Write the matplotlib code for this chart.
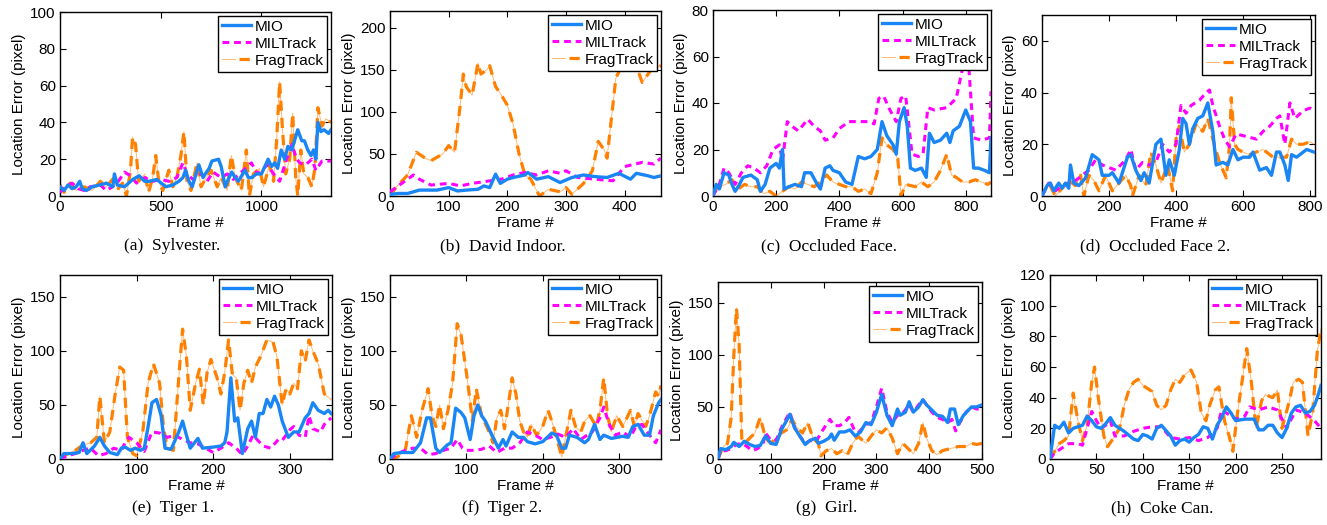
import matplotlib
matplotlib.use("Agg")
import matplotlib.pyplot as plt
from matplotlib.legend_handler import HandlerTuple

# ---------------- data (frame, location error) ----------------
series_names = ["MIO", "MILTrack", "FragTrack"]

syl_mio = [(0,5),(20,3),(40,6),(60,4),(80,5),(98,8),(110,4),(131,3),(160,5),(197,6),(230,7),(262,5),(270,12),(285,6),(320,5),(361,9),(393,11),(420,8),(443,8),(480,9),(525,5),(560,6),(590,8),(610,10),(623,14),(640,8),(656,5),(689,17),(710,10),(721,12),(740,15),(754,19),(787,20),(800,16),(820,5),(835,9),(852,13),(870,10),(885,8),(918,14),(935,10),(951,10),(975,12),(1000,12),(1033,20),(1050,16),(1066,18),(1080,15),(1098,25),(1115,20),(1131,27),(1150,25),(1180,36),(1200,30),(1213,30),(1230,25),(1246,22),(1258,25),(1270,20),(1280,40),(1295,35),(1310,36),(1333,34),(1345,36)]
syl_mil = [(0,2),(30,5),(60,7),(90,4),(120,3),(150,5),(200,6),(230,3),(260,5),(290,8),(320,13),(350,11),(380,7),(420,10),(460,8),(500,9),(540,8),(580,10),(610,18),(630,12),(660,9),(700,12),(730,8),(760,13),(800,10),(830,12),(860,9),(900,13),(950,18),(980,12),(1000,14),(1030,17),(1060,12),(1090,8),(1110,15),(1150,28),(1175,20),(1190,18),(1220,17),(1250,20),(1270,14),(1300,19),(1345,19)]
syl_frag = [(0,6),(20,2),(50,7),(80,3),(120,5),(160,3),(200,8),(230,5),(260,9),(290,4),(310,7),(330,0),(350,14),(360,32),(375,28),(390,8),(420,12),(440,2),(460,10),(475,22),(490,8),(510,3),(540,14),(560,5),(580,10),(600,22),(615,35),(630,8),(650,3),(680,18),(700,5),(720,9),(750,14),(780,5),(800,10),(830,3),(850,22),(870,10),(900,3),(925,25),(940,0),(960,12),(990,15),(1010,5),(1040,17),(1060,8),(1075,30),(1090,62),(1105,35),(1120,12),(1140,20),(1155,45),(1170,10),(1180,0),(1195,25),(1210,12),(1230,10),(1250,5),(1265,15),(1280,48),(1300,38),(1320,42),(1345,40)]

dav_mio = [(0,2),(15,3),(30,3),(50,7),(80,7),(100,10),(115,6),(130,7),(150,8),(160,12),(170,10),(180,26),(188,15),(200,20),(210,22),(230,25),(235,28),(250,20),(270,23),(290,16),(310,22),(330,25),(350,23),(370,22),(390,27),(410,20),(420,27),(440,24),(450,22),(462,24)]
dav_mil = [(0,5),(20,15),(40,25),(50,20),(70,13),(100,15),(120,12),(140,15),(170,18),(190,20),(210,25),(230,28),(250,25),(270,30),(290,27),(300,30),(320,22),(350,20),(380,18),(400,35),(430,40),(450,38),(462,45)]
dav_frag = [(0,0),(10,10),(30,25),(45,52),(60,45),(70,42),(90,50),(100,60),(110,52),(120,110),(125,145),(130,130),(140,120),(150,158),(155,145),(165,150),(170,155),(180,130),(190,120),(200,108),(210,85),(220,50),(230,25),(240,20),(255,0),(270,8),(290,5),(300,10),(310,2),(330,15),(345,30),(355,65),(365,55),(370,45),(385,140),(395,155),(420,155),(430,135),(445,150),(462,155)]

occ_mio = [(0,0),(10,5),(20,3),(35,10),(50,9),(60,5),(70,2),(80,4),(95,8),(120,9),(140,7),(150,2),(165,5),(180,12),(200,14),(210,12),(220,20),(225,3),(240,4),(260,5),(280,4),(290,10),(310,10),(330,5),(340,3),(355,12),(370,13),(380,11),(400,10),(420,6),(440,5),(460,17),(480,16),(500,17),(520,20),(535,32),(550,26),(570,22),(580,18),(590,32),(605,38),(615,30),(625,12),(640,11),(660,12),(675,8),(685,27),(700,23),(720,24),(740,27),(750,23),(760,28),(780,30),(800,37),(815,32),(825,12),(840,12),(860,11),(875,10),(880,25)]
occ_mil = [(0,0),(20,5),(35,12),(50,10),(70,5),(90,10),(110,13),(130,12),(150,10),(170,13),(190,20),(210,22),(220,15),(235,32),(250,30),(270,28),(300,33),(320,30),(340,28),(355,24),(380,25),(400,29),(430,32),(460,32),(490,32),(510,31),(525,42),(540,43),(560,37),(580,32),(595,42),(610,43),(630,18),(650,17),(665,18),(680,38),(700,37),(740,38),(770,42),(790,55),(810,55),(825,25),(850,24),(875,25),(880,45)]
occ_frag = [(0,2),(20,4),(40,5),(60,7),(80,3),(100,5),(120,4),(140,4),(160,1),(180,2),(200,0),(220,2),(240,4),(260,3),(280,6),(300,5),(320,4),(340,6),(360,9),(380,6),(400,5),(420,4),(440,4),(460,2),(480,3),(500,1),(520,10),(535,25),(550,22),(570,20),(585,16),(595,0),(610,5),(640,4),(660,6),(680,4),(700,6),(720,11),(740,18),(755,9),(770,8),(790,6),(810,6),(830,7),(850,6),(870,5),(880,6)]

oc2_mio = [(0,0),(15,4),(25,5),(35,2),(50,5),(60,3),(70,5),(80,3),(85,12),(95,5),(110,4),(130,7),(150,16),(170,14),(180,8),(200,8),(210,9),(230,5),(255,15),(265,16),(280,10),(295,6),(305,9),(320,5),(340,20),(355,22),(370,8),(380,14),(395,8),(410,18),(420,30),(430,28),(440,20),(450,26),(465,30),(480,31),(495,36),(510,25),(520,12),(540,13),(555,12),(570,18),(585,14),(600,15),(620,15),(630,17),(650,10),(670,11),(685,8),(700,17),(710,17),(725,12),(735,6),(745,16),(760,15),(790,18),(812,17)]
oc2_mil = [(0,0),(20,5),(40,2),(60,4),(80,5),(100,6),(120,8),(140,10),(160,14),(180,12),(200,11),(220,10),(250,14),(265,18),(280,10),(300,13),(320,12),(340,13),(360,20),(380,17),(400,20),(415,35),(430,32),(445,35),(470,37),(490,40),(500,41),(510,35),(530,27),(545,22),(560,19),(580,24),(610,23),(640,22),(660,25),(680,27),(700,30),(710,31),(725,20),(740,36),(755,30),(780,33),(800,34),(812,33)]
oc2_frag = [(0,0),(20,5),(40,0),(60,3),(80,6),(100,4),(115,8),(125,0),(140,8),(155,6),(170,2),(190,8),(210,2),(230,5),(250,8),(265,4),(270,0),(290,8),(310,4),(325,17),(340,12),(355,5),(375,12),(390,2),(400,22),(410,27),(425,17),(440,20),(460,28),(480,25),(495,30),(510,22),(530,13),(550,7),(560,20),(565,38),(575,20),(585,18),(600,17),(620,16),(640,17),(660,18),(690,15),(710,15),(730,15),(745,22),(760,20),(780,20),(800,21),(812,20)]

t1_mio = [(0,0),(5,5),(15,5),(25,6),(30,15),(35,5),(45,12),(52,20),(58,12),(65,6),(75,4),(80,10),(85,11),(92,8),(98,10),(105,8),(110,10),(115,30),(120,52),(126,55),(132,40),(137,10),(145,9),(155,25),(160,35),(165,22),(170,10),(180,19),(186,10),(200,11),(210,12),(215,15),(218,25),(223,75),(228,35),(232,38),(238,5),(245,28),(250,35),(255,20),(260,42),(265,42),(270,55),(275,48),(280,58),(285,50),(290,35),(298,20),(305,25),(312,25),(320,38),(325,42),(330,52),(337,45),(345,42),(350,45),(354,42)]
t1_mil = [(0,0),(10,3),(20,5),(30,8),(40,10),(50,3),(60,5),(70,10),(80,8),(85,15),(90,20),(100,15),(110,7),(120,25),(130,24),(140,20),(150,22),(160,18),(170,15),(180,14),(190,10),(200,6),(210,10),(220,15),(230,10),(238,4),(245,12),(252,22),(265,12),(275,10),(285,18),(290,17),(300,27),(305,30),(312,22),(320,20),(325,40),(330,28),(340,25),(345,32),(354,38)]
t1_frag = [(0,0),(10,5),(20,8),(30,13),(40,15),(48,20),(52,58),(58,15),(65,25),(72,60),(78,85),(83,82),(88,20),(95,5),(100,3),(108,25),(115,70),(122,88),(130,70),(135,30),(140,10),(148,8),(155,75),(160,120),(165,95),(170,45),(177,70),(182,83),(187,50),(192,80),(197,92),(205,75),(210,60),(215,80),(220,110),(225,78),(230,75),(235,45),(240,70),(245,82),(250,70),(255,85),(262,95),(270,110),(278,108),(283,95),(290,50),(295,65),(300,60),(305,70),(310,65),(315,100),(320,90),(325,110),(330,100),(337,88),(345,60),(354,55)]

t2_mio = [(0,0),(5,5),(15,6),(25,6),(30,6),(40,15),(48,38),(53,38),(60,10),(65,6),(75,13),(80,15),(86,47),(93,43),(98,38),(105,18),(110,40),(115,50),(120,40),(125,35),(135,20),(142,10),(148,18),(152,12),(160,25),(168,20),(175,20),(180,16),(190,14),(200,16),(212,24),(218,22),(225,10),(230,10),(235,22),(245,20),(255,15),(260,18),(268,32),(275,18),(280,22),(290,19),(305,21),(312,20),(318,30),(325,32),(333,22),(340,22),(345,40),(352,52),(355,55)]
t2_mil = [(0,0),(10,5),(20,8),(30,10),(40,10),(50,4),(60,5),(70,8),(80,10),(88,18),(95,10),(100,8),(110,8),(120,9),(130,12),(140,6),(150,10),(160,10),(170,15),(180,25),(190,22),(200,18),(210,20),(220,23),(230,20),(240,28),(250,18),(258,22),(265,25),(275,38),(280,48),(287,32),(295,22),(305,25),(315,20),(322,30),(330,32),(340,22),(348,15),(355,27)]
t2_frag = [(0,0),(10,2),(20,8),(28,40),(35,20),(42,45),(50,65),(55,40),(60,30),(65,50),(70,28),(76,45),(82,70),(88,125),(93,115),(97,95),(102,70),(108,35),(113,65),(120,40),(128,28),(135,15),(140,38),(145,45),(150,28),(155,50),(160,75),(165,60),(170,35),(175,25),(180,20),(185,32),(192,22),(200,30),(207,45),(212,35),(218,20),(225,2),(230,20),(237,45),(243,30),(250,25),(255,35),(262,40),(270,30),(275,45),(280,75),(285,40),(290,25),(297,40),(305,30),(315,45),(320,30),(325,42),(335,30),(340,40),(348,62),(352,58),(355,68)]

girl_mio = [(0,0),(5,10),(15,9),(25,12),(30,16),(40,12),(50,17),(60,14),(70,12),(80,13),(90,22),(100,15),(110,14),(120,28),(130,37),(136,43),(145,30),(155,22),(165,14),(175,18),(185,20),(190,15),(200,17),(210,20),(215,24),(220,18),(230,26),(240,26),(250,28),(260,22),(270,26),(280,35),(290,33),(300,45),(310,62),(320,42),(330,32),(340,48),(345,42),(355,45),(362,55),(370,45),(380,50),(388,57),(395,52),(405,47),(415,42),(425,41),(435,35),(440,48),(448,48),(455,33),(465,42),(480,50),(490,50),(500,52)]
girl_mil = [(0,0),(5,8),(15,8),(25,10),(35,14),(45,15),(55,12),(65,8),(75,10),(85,14),(90,25),(100,18),(110,18),(120,30),(136,45),(145,30),(155,22),(165,15),(175,18),(185,16),(195,25),(205,33),(212,38),(220,32),(230,32),(240,35),(248,40),(258,28),(265,25),(280,33),(290,35),(300,50),(310,68),(320,45),(330,35),(340,42),(350,44),(362,52),(370,45),(380,52),(388,57),(395,52),(405,45),(415,40),(425,38),(435,35),(443,38),(450,27),(458,35),(470,45),(480,50),(490,48),(500,48)]
girl_frag = [(0,0),(10,12),(18,15),(25,40),(30,100),(35,145),(40,110),(45,20),(50,15),(60,20),(70,25),(80,40),(90,20),(100,15),(110,20),(120,25),(130,28),(140,38),(150,30),(160,25),(170,35),(180,20),(190,15),(195,3),(205,8),(215,10),(225,5),(235,8),(245,4),(255,15),(265,22),(280,15),(290,22),(300,28),(310,25),(320,30),(330,20),(340,5),(350,15),(360,10),(370,5),(380,15),(388,35),(395,20),(405,8),(415,4),(425,8),(440,10),(455,12),(470,12),(480,15),(490,14),(500,15)]

coke_mio = [(0,0),(5,22),(10,20),(15,24),(20,17),(25,20),(35,22),(40,28),(45,25),(50,21),(55,20),(60,23),(65,27),(70,22),(80,18),(90,13),(95,12),(100,16),(105,15),(110,13),(115,20),(120,22),(130,15),(135,9),(140,12),(145,13),(150,11),(155,14),(160,16),(165,21),(170,20),(175,13),(180,22),(185,27),(190,34),(195,30),(200,25),(210,26),(220,26),(225,19),(230,19),(235,22),(240,22),(245,17),(250,14),(255,20),(260,30),(265,34),(270,35),(275,30),(280,31),(285,35),(288,40),(292,48)]
coke_mil = [(0,0),(5,4),(10,6),(15,8),(20,10),(30,10),(35,9),(40,20),(45,31),(50,25),(55,20),(60,22),(65,25),(70,15),(80,15),(90,18),(100,20),(110,21),(120,21),(130,14),(140,13),(150,14),(160,12),(170,14),(180,20),(185,32),(190,30),(200,26),(210,28),(215,34),(225,32),(235,34),(245,32),(255,20),(265,32),(275,30),(285,25),(292,20)]
coke_frag = [(0,0),(10,10),(15,12),(20,15),(25,43),(30,25),(35,12),(40,22),(45,50),(48,60),(52,40),(58,15),(62,8),(70,15),(75,20),(80,35),(85,45),(90,50),(95,52),(100,48),(105,46),(110,44),(115,35),(120,32),(125,35),(130,45),(135,52),(140,50),(145,55),(152,58),(158,50),(163,30),(168,25),(172,35),(178,45),(182,47),(188,25),(193,15),(197,5),(202,30),(208,55),(212,72),(217,50),(222,20),(228,38),(232,42),(240,40),(245,45),(250,20),(258,38),(262,50),(268,52),(272,50),(278,15),(283,30),(288,70),(292,85)]

captions = ["(a)  Sylvester.", "(b)  David Indoor.", "(c)  Occluded Face.", "(d)  Occluded Face 2.",
            "(e)  Tiger 1.", "(f)  Tiger 2.", "(g)  Girl.", "(h)  Coke Can."]
xlims = [1345, 462, 880, 815, 355, 355, 500, 292]
ylims = [100, 220, 80, 70, 170, 170, 170, 120]
xticks = [[0, 500, 1000], [0, 100, 200, 300, 400], [0, 200, 400, 600, 800], [0, 200, 400, 600, 800],
          [0, 100, 200, 300], [0, 100, 200, 300], [0, 100, 200, 300, 400, 500], [0, 50, 100, 150, 200, 250]]
yticks = [[0, 20, 40, 60, 80, 100], [0, 50, 100, 150, 200], [0, 20, 40, 60, 80], [0, 20, 40, 60],
          [0, 50, 100, 150], [0, 50, 100, 150], [0, 50, 100, 150], [0, 20, 40, 60, 80, 100, 120]]
panel_series = [(syl_mio, syl_mil, syl_frag), (dav_mio, dav_mil, dav_frag), (occ_mio, occ_mil, occ_frag),
                (oc2_mio, oc2_mil, oc2_frag), (t1_mio, t1_mil, t1_frag), (t2_mio, t2_mil, t2_frag),
                (girl_mio, girl_mil, girl_frag), (coke_mio, coke_mil, coke_frag)]

# ---------------- layout (pixels: left, right, top, bottom) ----------------
W, H = 1327, 525
boxes = [(60, 331, 12, 196), (390, 661, 11, 196), (713, 991, 10, 196), (1042, 1315, 15, 196),
         (60, 332, 275, 459), (390, 661, 275, 459), (718, 982, 282, 459), (1050, 1321, 275, 459)]
caption_y = [246, 246, 246, 246, 508, 508, 508, 508]

C_MIO = "#1a86f5"
C_MIL = "#ff00ff"
C_FRAG = "#ff8000"

plt.rcParams['font.family'] = ['Liberation Sans', 'DejaVu Sans']
fig = plt.figure(figsize=(W / 100, H / 100), dpi=100)

for i, (l, r, t, b) in enumerate(boxes):
    ax = fig.add_axes([l / W, 1 - b / H, (r - l) / W, (b - t) / H])
    mio, mil, frag = panel_series[i]
    fx, fy = zip(*frag)
    f_thin, = ax.plot(fx, fy, color=C_FRAG, lw=0.7, alpha=0.55, zorder=2)
    f_dash, = ax.plot(fx, fy, color=C_FRAG, lw=2.3, dashes=(3.2, 2.2), zorder=2)
    lx, ly = zip(*mil)
    l_mil, = ax.plot(lx, ly, color=C_MIL, lw=2.2, dashes=(2.2, 1.6), zorder=3)
    mx, my = zip(*mio)
    l_mio, = ax.plot(mx, my, color=C_MIO, lw=2.4, zorder=4)

    ax.set_xlim(0, xlims[i])
    ax.set_ylim(0, ylims[i])
    ax.set_xticks(xticks[i])
    ax.set_yticks(yticks[i])
    ax.tick_params(direction='in', top=True, right=True, length=4, width=0.8,
                   labelsize=11, pad=3, colors='black')
    for s in ax.spines.values():
        s.set_linewidth(1.0)
    ax.set_xlabel("Frame #", fontsize=11, labelpad=1)
    ax.set_ylabel("Location Error (pixel)", fontsize=11, labelpad=3)

    leg = ax.legend([l_mio, l_mil, (f_thin, f_dash)], series_names,
                    handler_map={tuple: HandlerTuple(ndivide=None)},
                    loc='upper right', fontsize=11, frameon=True, fancybox=False,
                    framealpha=1, edgecolor='black', borderaxespad=0.25,
                    handlelength=1.9, handletextpad=0.2, labelspacing=0.2,
                    borderpad=0.25)
    leg.get_frame().set_linewidth(1.0)

    cx = ((l - 46) + r) / 2
    fig.text(cx / W, 1 - caption_y[i] / H, captions[i], ha='center', va='center',
             fontsize=12.5, family=['Liberation Serif', 'DejaVu Serif'])

fig.savefig("out.png", dpi=100)
